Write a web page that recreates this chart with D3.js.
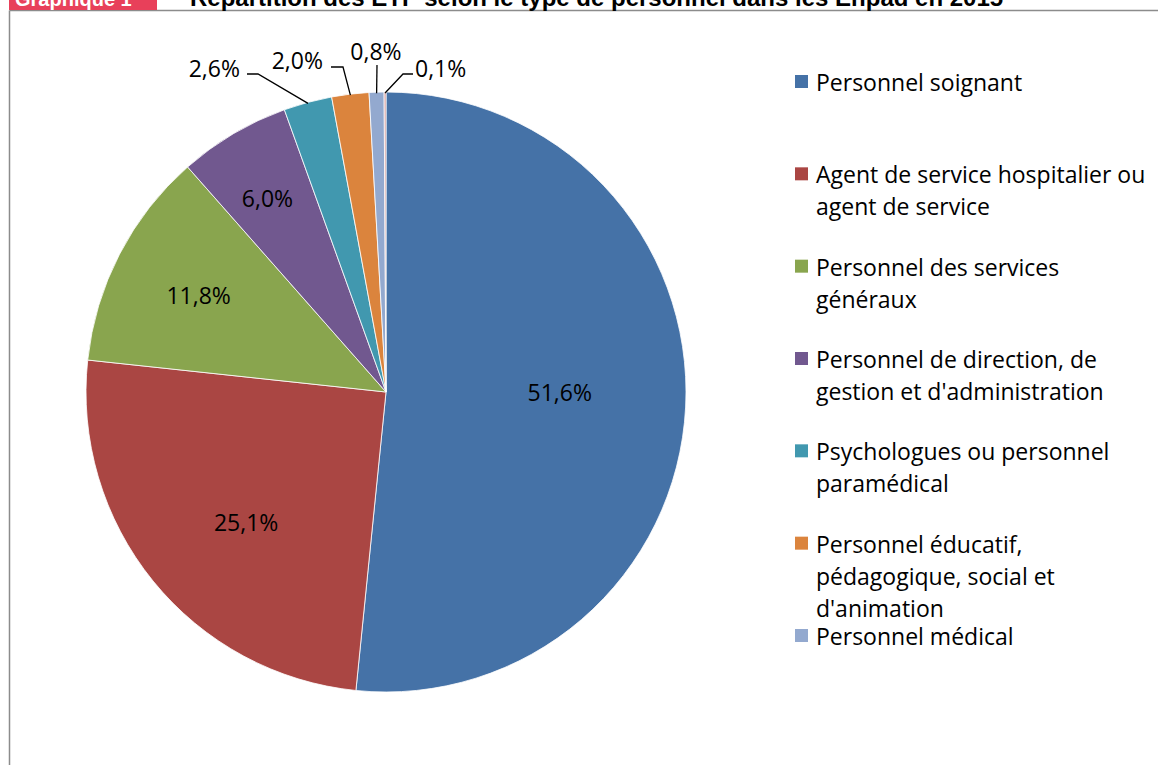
<!DOCTYPE html>
<html>
<head>
<meta charset="utf-8">
<script src="https://cdn.jsdelivr.net/npm/d3@7"></script>
<style>
  body { margin: 0; background: #fff; }
  svg { display: block; }
</style>
</head>
<body>
<div id="chart"></div>
<script>
// Data
const categories = [
  'Personnel soignant',
  'Agent de service hospitalier ou agent de service',
  'Personnel des services généraux',
  "Personnel de direction, de gestion et d'administration",
  'Psychologues ou personnel paramédical',
  "Personnel éducatif, pédagogique, social et d'animation",
  'Personnel médical',
  'Autre personnel'
]
const values = [51.6, 25.1, 11.8, 6.0, 2.6, 2.0, 0.8, 0.1]
const colors = ['#4572A7', '#AA4643', '#89A54E', '#71588F', '#4198AF', '#DB843D', '#93A9CF', '#D19392']

// legend lines as wrapped in the original (only 7 entries fit)
const legendLines = [
  ['Personnel soignant'],
  ['Agent de service hospitalier ou', 'agent de service'],
  ['Personnel des services', 'généraux'],
  ['Personnel de direction, de', "gestion et d'administration"],
  ['Psychologues ou personnel', 'paramédical'],
  ['Personnel éducatif,', 'pédagogique, social et', "d'animation"],
  ['Personnel médical']
]

const W = 1158, H = 765
const cx = 386, cy = 392, R = 300
const font = '"Open Sans", Calibri, sans-serif'
const fs = '23px'

// inside label radius + nudge, outside label layout (relative to centre)
const insideR = [174, 193, 211, 227]
const insideNudge = [[0, -9], [10, 8], [0, 0], [-3, 1]]
const outside = [
  null, null, null, null,
  {elbow: [-128, -318], end: [-139, -318], text: [-146, -324], anchor: 'end'},
  {elbow: [-43, -325], end: [-55, -325], text: [-63, -332], anchor: 'end'},
  {elbow: [-9, -327], end: [-9, -327], text: [-10, -341], anchor: 'middle'},
  {elbow: [17, -318], end: [27, -318], text: [29, -324], anchor: 'start'}
]

const fmt = v => d3.format('.1f')(v).replace('.', ',') + '%'

const svg = d3.select('#chart').append('svg')
    .attr('width', W)
    .attr('height', H)

// frame
svg.append('line')
    .attr('x1', 9.5).attr('x2', W).attr('y1', 10.5).attr('y2', 10.5)
    .attr('stroke', '#8c8c8c').attr('stroke-width', 1.5)
svg.append('line')
    .attr('x1', 9.5).attr('x2', 9.5).attr('y1', 10.5).attr('y2', H)
    .attr('stroke', '#8c8c8c').attr('stroke-width', 1.5)

// title (cut at top of picture)
svg.append('rect')
    .attr('x', 9).attr('y', -10).attr('width', 148).attr('height', 20)
    .attr('fill', '#E8405A')
svg.append('text')
    .attr('x', 15).attr('y', 5.5)
    .attr('font-family', 'Liberation Sans, Arial, sans-serif')
    .attr('font-weight', 'bold').attr('font-size', '20px')
    .attr('fill', '#fff')
    .text('Graphique 1')
svg.append('text')
    .attr('x', 190).attr('y', 5.5)
    .attr('font-family', 'Liberation Sans, Arial, sans-serif')
    .attr('font-weight', 'bold').attr('font-size', '24px')
    .attr('fill', '#000')
    .text('Répartition des ETP selon le type de personnel dans les Ehpad en 2015')

// Pie
const pie = d3.pie().sort(null).value(d => d)
const arcs = pie(values)
const arc = d3.arc().innerRadius(0).outerRadius(R)

const g = svg.append('g').attr('transform', `translate(${cx}, ${cy})`)

g.selectAll('path.slice')
    .data(arcs).enter()
    .append('path')
    .attr('class', 'slice')
    .attr('d', arc)
    .attr('fill', (d, i) => colors[i])
    .attr('stroke', '#fff')
    .attr('stroke-width', 0.8)

// inside labels
arcs.slice(0, 4).forEach((d, i) => {
  const c = d3.arc().innerRadius(insideR[i]).outerRadius(insideR[i]).centroid(d)
  g.append('text')
      .attr('x', c[0] + insideNudge[i][0]).attr('y', c[1] + insideNudge[i][1])
      .attr('text-anchor', 'middle')
      .attr('dominant-baseline', 'central')
      .attr('font-family', font).attr('font-size', fs)
      .attr('fill', '#000')
      .text(fmt(values[i]))
})

// outside labels with leader lines
arcs.forEach((d, i) => {
  const o = outside[i]
  if (!o) return
  const p = d3.arc().innerRadius(R - 1).outerRadius(R - 1).centroid(d)
  g.append('polyline')
      .attr('points', [p, o.elbow, o.end].map(q => q.join(',')).join(' '))
      .attr('fill', 'none')
      .attr('stroke', '#000')
      .attr('stroke-width', 1.3)
  g.append('text')
      .attr('x', o.text[0]).attr('y', o.text[1])
      .attr('text-anchor', o.anchor)
      .attr('dominant-baseline', 'central')
      .attr('font-family', font).attr('font-size', fs)
      .attr('fill', '#000')
      .text(fmt(values[i]))
})

// Legend
const legendY = d3.scaleLinear().domain([0, 6]).range([82, 636])

const lg = svg.append('g')
legendLines.forEach((lines, i) => {
  const y = legendY(i)
  lg.append('rect')
      .attr('x', 795).attr('y', y - 7).attr('width', 13).attr('height', 13)
      .attr('fill', colors[i])
  const t = lg.append('text')
      .attr('font-family', font).attr('font-size', fs)
      .attr('fill', '#000')
  lines.forEach((line, j) => {
    t.append('tspan')
        .attr('x', 816)
        .attr('y', y + j * 32)
        .attr('dominant-baseline', 'central')
        .text(line)
  })
})
</script>
</body>
</html>
